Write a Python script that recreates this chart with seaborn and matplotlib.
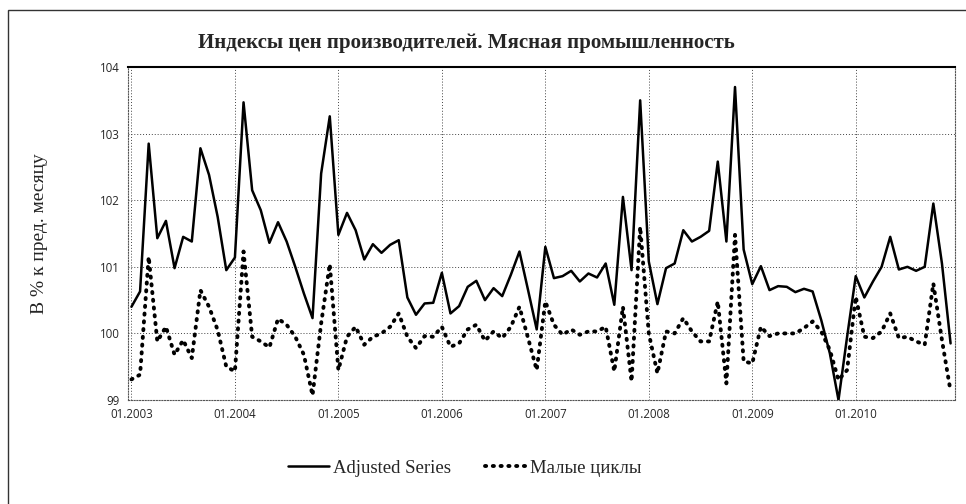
import matplotlib
matplotlib.use('Agg')
import matplotlib.pyplot as plt
from matplotlib.patches import Rectangle
import seaborn as sns
import pandas as pd
import numpy as np

# monthly values, 01.2003 - 12.2010
adjusted = [
    100.40, 100.63, 102.85, 101.43, 101.69, 100.98, 101.45, 101.38, 102.78, 102.38, 101.75, 100.95,
    101.14, 103.47, 102.15, 101.85, 101.36, 101.67, 101.38, 101.00, 100.60, 100.23, 102.40, 103.26,
    101.48, 101.81, 101.55, 101.11, 101.34, 101.21, 101.33, 101.40, 100.54, 100.28, 100.45, 100.46,
    100.91, 100.30, 100.41, 100.70, 100.79, 100.50, 100.68, 100.56, 100.88, 101.23, 100.65, 100.06,
    101.30, 100.83, 100.86, 100.94, 100.78, 100.90, 100.84, 101.05, 100.43, 102.05, 100.95, 103.50,
    101.08, 100.44, 100.98, 101.05, 101.55, 101.38, 101.45, 101.54, 102.58, 101.38, 103.70, 101.26,
    100.74, 101.01, 100.65, 100.71, 100.70, 100.62, 100.67, 100.63, 100.20, 99.70, 99.00, 99.95,
    100.86, 100.54, 100.78, 101.00, 101.45, 100.96, 101.00, 100.94, 101.00, 101.95, 101.05, 99.85,
]
small_cycles = [
    99.31, 99.38, 101.15, 99.88, 100.10, 99.68, 99.90, 99.63, 100.65, 100.40, 100.05, 99.50,
    99.43, 101.23, 99.95, 99.88, 99.79, 100.22, 100.13, 99.95, 99.68, 99.07, 100.15, 101.04,
    99.45, 99.95, 100.10, 99.83, 99.95, 100.00, 100.10, 100.30, 99.95, 99.78, 99.96, 99.95,
    100.10, 99.80, 99.85, 100.06, 100.13, 99.89, 100.03, 99.93, 100.10, 100.40, 99.93, 99.45,
    100.48, 100.13, 99.98, 100.06, 99.98, 100.03, 100.03, 100.10, 99.43, 100.40, 99.28, 101.60,
    100.00, 99.40, 100.03, 100.00, 100.23, 100.03, 99.88, 99.88, 100.48, 99.25, 101.48, 99.58,
    99.55, 100.10, 99.96, 100.00, 100.00, 100.00, 100.08, 100.18, 100.03, 99.75, 99.30, 99.45,
    100.55, 99.95, 99.93, 100.03, 100.30, 99.93, 99.95, 99.88, 99.83, 100.75, 99.90, 99.13,
]
year_labels = ['01.2003', '01.2004', '01.2005', '01.2006', '01.2007', '01.2008', '01.2009', '01.2010']
y_ticks = [99, 100, 101, 102, 103, 104]

title = 'Индексы цен производителей. Мясная промышленность'
ylabel = 'В % к пред. месяцу'
names = ['Adjusted Series', 'Малые циклы']

df = pd.DataFrame({
    'month': np.arange(len(adjusted)),
    names[0]: adjusted,
    names[1]: small_cycles,
})

sns.set_style('white')
plt.rcParams['font.family'] = ['Liberation Serif', 'DejaVu Serif']

fig = plt.figure(figsize=(9.66, 5.04), dpi=100)
ax = fig.add_axes([0.1325, 0.2063, 0.856, 0.6607])

sns.lineplot(data=df, x='month', y=names[0], ax=ax, color='black', linewidth=1.8,
             label=names[0])
sns.lineplot(data=df, x='month', y=names[1], ax=ax, color='black', linewidth=2.8,
             linestyle=(0, (0.3, 1.7)), dash_capstyle='round', label=names[1])

ax.set_xlim(-0.4, len(adjusted) - 0.5)
ax.set_ylim(99, 104)
ax.set_yticks(y_ticks)
ax.set_xticks(np.arange(len(year_labels)) * 12)
ax.set_xticklabels(year_labels)
ax.tick_params(axis='both', length=0, pad=6)
for lab in ax.get_xticklabels() + ax.get_yticklabels():
    lab.set_family('Open Sans')
    lab.set_fontsize(8.3)

ax.grid(True, color='#444444', linestyle=(0, (1, 2)), linewidth=0.7)
for side in ['left', 'right', 'bottom']:
    ax.spines[side].set_color('#555555')
    ax.spines[side].set_linewidth(0.8)
    ax.spines[side].set_linestyle((0, (1, 1.5)))
ax.spines['top'].set_color('black')
ax.spines['top'].set_linewidth(1.5)

ax.set_xlabel('')
ax.set_ylabel(ylabel, fontsize=14)
ax.yaxis.set_label_coords(-0.097, 0.5)
fig.text(0.483, 0.915, title, ha='center', va='center', fontsize=15, fontweight='bold')

ax.legend(loc='center', bbox_to_anchor=(0.407, -0.205), ncol=2, frameon=False,
          fontsize=13.5, handlelength=2.2, columnspacing=1.8, handletextpad=0.2)

# outer chart frame
fig.patches.append(Rectangle((0.008, -0.01), 1.0, 0.99, transform=fig.transFigure,
                             fill=False, edgecolor='#333333', linewidth=1.0))

fig.savefig('out.png', dpi=100)
plt.close(fig)
